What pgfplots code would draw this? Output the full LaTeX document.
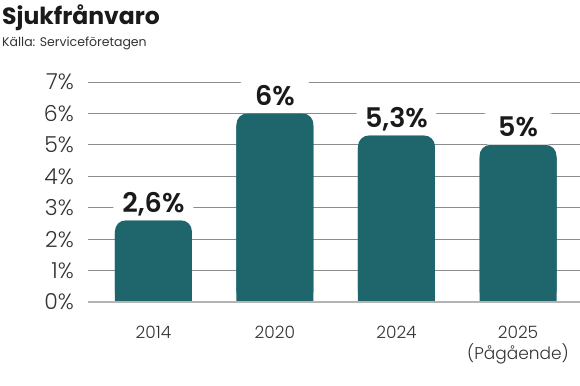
\documentclass[border=0pt]{standalone}
\usepackage{pgfplots}
\pgfplotsset{compat=1.18}
\usepackage{fontspec}
\setmainfont{Poppins}[BoldFont={Poppins SemiBold}]
\newfontfamily\lightfont{Poppins Light}
\newfontfamily\titlefont{Poppins Bold}
\definecolor{barc}{HTML}{1E666C}
\definecolor{gridc}{HTML}{8C8C8C}
\definecolor{basec}{HTML}{B4B4B4}
\definecolor{txt}{HTML}{333333}
\definecolor{ttl}{HTML}{1A1A1A}
\begin{document}
\begin{tikzpicture}
\begin{axis}[at={(0,0)}, anchor=south west, scale only axis,
  width=492pt, height=220pt,
  xmin=-0.538, xmax=3.51, ymin=0, ymax=7,
  axis line style={draw=none}, major tick length=0pt,
  ytick={0,1,2,3,4,5,6,7},
  yticklabels={0\%,1\%,2\%,3\%,4\%,5\%,6\%,7\%},
  yticklabel style={font=\lightfont\fontsize{22}{22}\selectfont, text=txt, anchor=east, inner sep=0pt, xshift=-14pt},
  xtick={0,1,2,3},
  xticklabels={2014,2020,2024,{2025\\(Pågående)}},
  xticklabel style={font=\lightfont\fontsize{17}{21}\selectfont, text=txt, align=center, anchor=north, inner sep=0pt, yshift=-24pt},
  ymajorgrids, grid style={draw=gridc, line width=0.9pt},
  clip=false,
  point meta=explicit symbolic,
  nodes near coords style={font=\fontsize{27}{27}\selectfont\bfseries, text=ttl, fill=white, inner xsep=5pt, inner ysep=4pt, minimum width=80pt, text height=20pt, text depth=4pt, anchor=south},
]
\addplot[ybar, bar width=77pt, bar shift=0pt, fill=barc, draw=none, rounded corners=11pt, nodes near coords]
  coordinates {(0,2.6) [2,6\%] (1,6) [6\%] (2,5.3) [5,3\%] (3,5) [5\%]};
\addplot[ybar, bar width=77pt, bar shift=0pt, fill=barc, draw=none]
  coordinates {(0,2.2) (1,5.6) (2,4.9) (3,4.6)};
\draw[line width=2.5pt, draw=basec] (axis cs:-0.538,0) -- (axis cs:3.51,0);
\end{axis}
\node[anchor=base west, inner sep=0pt, text=ttl, font=\titlefont\fontsize{23.5}{24}\selectfont] at (-86pt,277pt) {Sjukfrånvaro};
\node[anchor=base west, inner sep=0pt, text=txt, font=\fontsize{12.5}{12.5}\selectfont] at (-86pt,255pt) {Källa: Serviceföretagen};
\pgfresetboundingbox
\path[use as bounding box] (-88pt,-83pt) rectangle (492pt,302pt);
\end{tikzpicture}
\end{document}
